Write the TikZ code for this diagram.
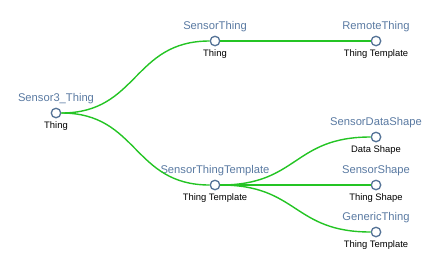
\documentclass[tikz,border=0pt]{standalone}
\usepackage{fontspec}
\setmainfont{Liberation Sans}
\usetikzlibrary{calc}
\definecolor{namecol}{RGB}{90,122,162}
\definecolor{ringcol}{RGB}{84,114,150}
\definecolor{linkcol}{RGB}{36,196,36}
\tikzset{
  treenode/.style={circle,draw=ringcol,fill=white,line width=1.3pt,minimum size=9.5pt,inner sep=0pt},
  namelab/.style={font=\fontsize{11.2}{13}\selectfont,text=namecol,inner sep=0pt},
  typelab/.style={font=\fontsize{9.4}{11}\selectfont,text=black,inner sep=0pt},
  link/.style={draw=linkcol,line width=1.4pt}
}
\begin{document}
\begin{tikzpicture}[x=1pt,y=-1pt]
\useasboundingbox (0,0) rectangle (433,274);
% labels
\node[namelab] (s3n) at (56,99) {Sensor3\_Thing};
\node[typelab] (s3t) at (56,126) {Thing};
\node[namelab] (stn) at (215,27) {SensorThing};
\node[typelab] (stty) at (215,54) {Thing};
\node[namelab] (rtn) at (376,27) {RemoteThing};
\node[typelab] (rtt) at (376,54) {Thing Template};
\node[namelab] (sttn) at (215,171) {SensorThingTemplate};
\node[typelab] (sttt) at (215,198) {Thing Template};
\node[namelab] (sdsn) at (376,123) {SensorDataShape};
\node[typelab] (sdst) at (376,150) {Data Shape};
\node[namelab] (ssn) at (376,171) {SensorShape};
\node[typelab] (sst) at (376,198) {Thing Shape};
\node[namelab] (gtn) at (376,218) {GenericThing};
\node[typelab] (gtt) at (376,245) {Thing Template};
% nodes
\node[treenode] (s3) at (56,113) {};
\node[treenode] (st) at (215,41) {};
\node[treenode] (rt) at (376,41) {};
\node[treenode] (stt) at (215,185) {};
\node[treenode] (sds) at (376,137) {};
\node[treenode] (ss) at (376,185) {};
\node[treenode] (gt) at (376,232) {};
% links (drawn over the labels, as in the reference)
\path[link] (s3.east) .. controls +(77,0) and +(-77,0) .. (st.west);
\path[link] (s3.east) .. controls +(77,0) and +(-77,0) .. (stt.west);
\path[link] (st.east) .. controls +(78,0) and +(-78,0) .. (rt.west);
\path[link] (stt.east) .. controls +(78,0) and +(-78,0) .. (sds.west);
\path[link] (stt.east) .. controls +(78,0) and +(-78,0) .. (ss.west);
\path[link] (stt.east) .. controls +(78,0) and +(-78,0) .. (gt.west);
\end{tikzpicture}
\end{document}
